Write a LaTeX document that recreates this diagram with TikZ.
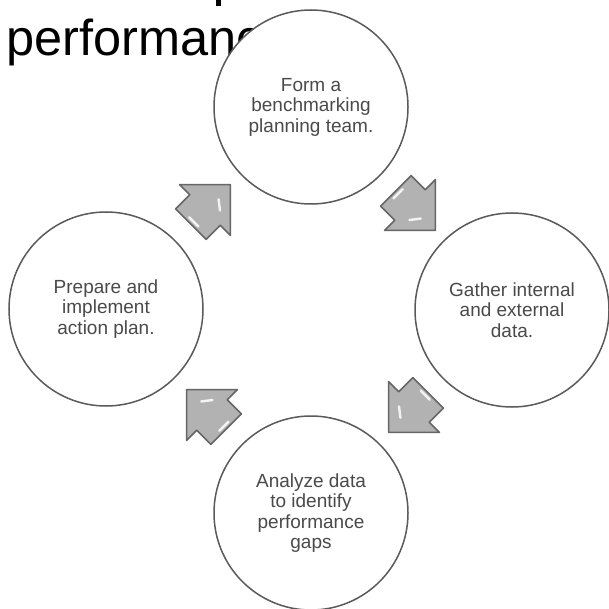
\documentclass[tikz,border=0pt]{standalone}
\usepackage{fontspec}
\setmainfont{Liberation Sans}
\definecolor{txtgray}{HTML}{4A4A4A}
\definecolor{ringgray}{HTML}{5A5A5A}
\definecolor{arrfill}{HTML}{B2B2B2}
\definecolor{arredge}{HTML}{666666}
\tikzset{
  stage/.style={circle, draw=ringgray, line width=1.5pt, fill=white,
    minimum size=194pt, inner sep=0pt, align=center, text=txtgray,
    font=\fontsize{19}{20.5}\selectfont},
  titletext/.style={inner sep=0pt, anchor=base west, text=black,
    font=\fontsize{50.5}{56}\selectfont},
  shine/.style={white, opacity=.85, line width=2.4pt, line cap=round},
  blockarrow/.pic={
    \draw[fill=arrfill, draw=arredge, line width=1.6pt, line join=round]
      (-17.2,-21.6) -- (2.8,-21.6) -- (2.8,-36) -- (38.8,0) -- (2.8,36)
      -- (2.8,21.6) -- (-17.2,21.6) -- cycle;
    \draw[shine] (-13.5,-6) -- (-13.5,7);
    \draw[shine] (13,11) -- (20,2);
  }
}
\begin{document}
\begin{tikzpicture}[x=1pt,y=-1pt]
  \clip (0,0) rectangle (609,609);
  \fill[white] (0,0) rectangle (609,609);
  % fragment of the cut-off first title line (descender of a letter)
  \fill[black] (216,0) rectangle (221,6);
  % title line (partly hidden by the first circle)
  \node[titletext] (title) at (6,56) {performance};
  % stages
  \node[stage] (form) at (311,107) {Form a\\benchmarking\\planning team.};
  \node[stage] (gather) at (512,310) {Gather internal\\and external\\data.};
  \node[stage] (analyze) at (311,513) {Analyze data\\to identify\\performance\\gaps};
  \node[stage] (prepare) at (106,309) {Prepare and\\implement\\action plan.};
  % cycle arrows
  \pic[rotate=45] at (203,212) {blockarrow};
  \pic[rotate=-45] at (408,203) {blockarrow};
  \pic[rotate=-135] at (416,405) {blockarrow};
  \pic[rotate=135] at (214,417) {blockarrow};
\end{tikzpicture}
\end{document}
